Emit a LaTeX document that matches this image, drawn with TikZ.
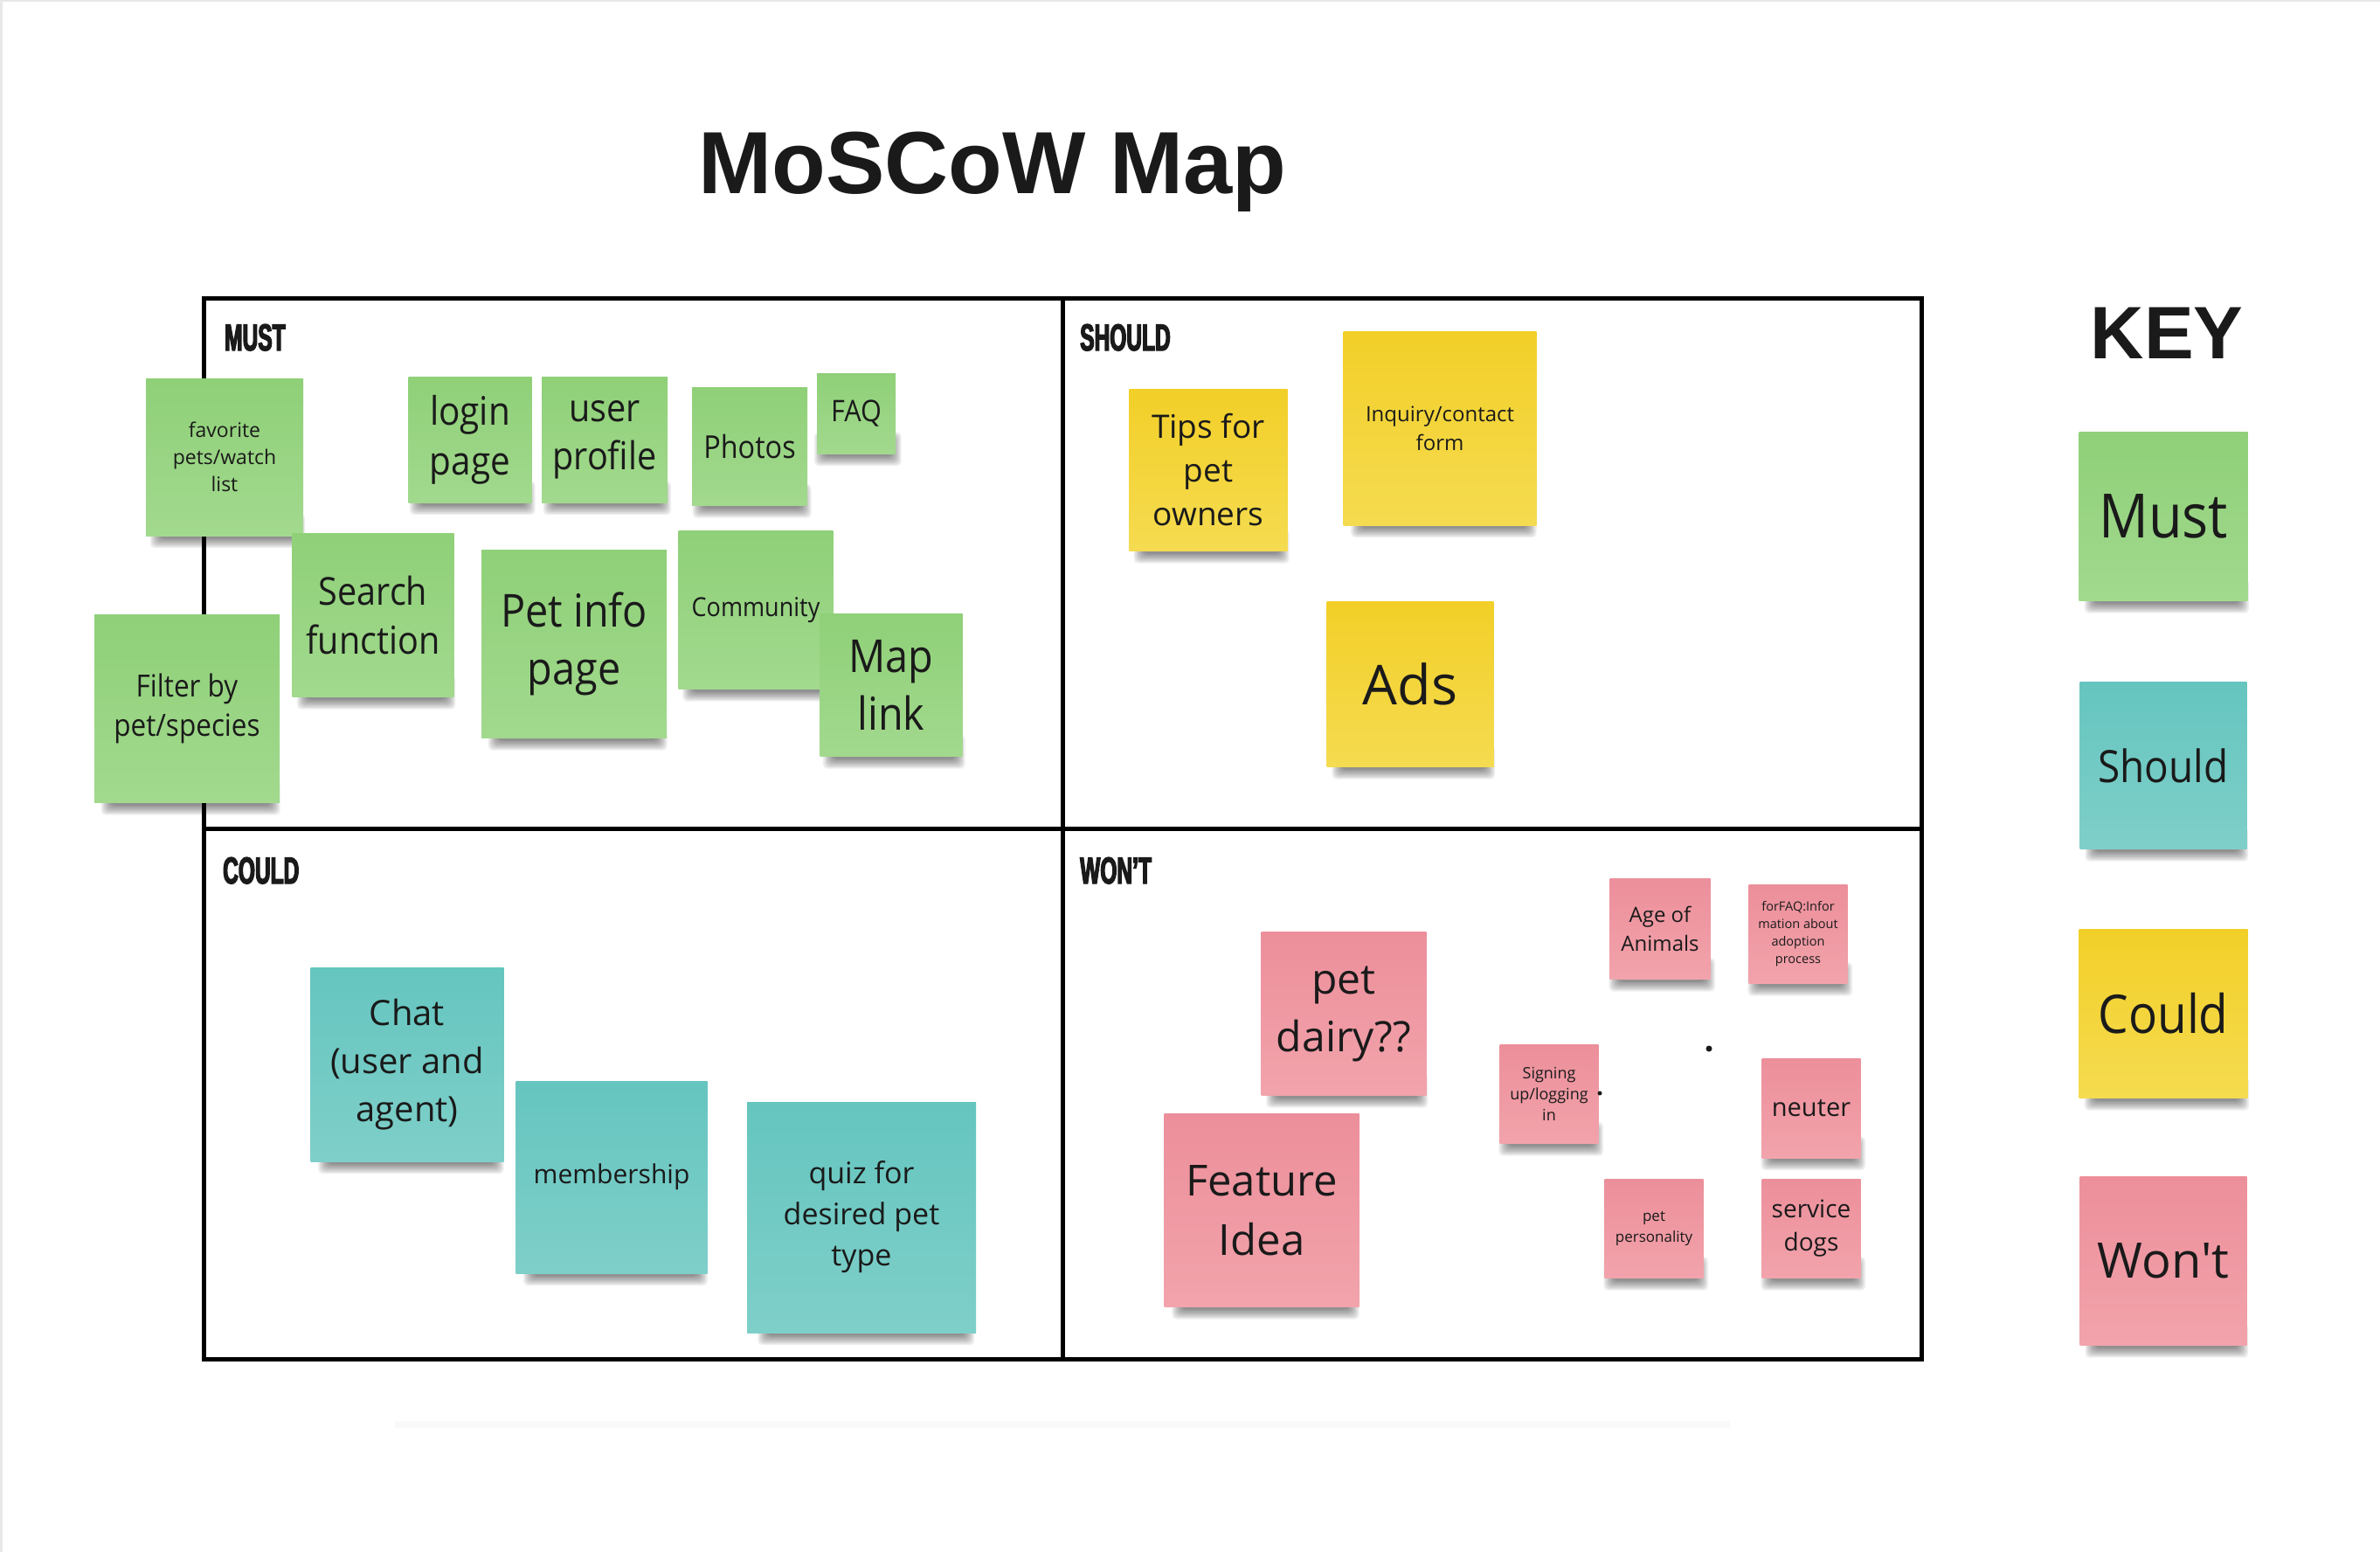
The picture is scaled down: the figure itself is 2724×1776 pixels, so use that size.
\documentclass[tikz,border=0pt]{standalone}
\usepackage{fontspec}
\setmainfont{Open Sans}
\newfontfamily\osc{Open Sans}[FakeStretch=0.9]
\newfontfamily\osplain{Open Sans}
\newfontfamily\headfont{Liberation Sans}
\newfontfamily\bebas{Liberation Sans Bold}[FakeStretch=0.57, FakeBold=3]
\newcommand\fs[2]{\fontsize{#1}{#2}\selectfont}
\definecolor{ink}{RGB}{26,26,26}
\definecolor{gTop}{RGB}{143,208,120}
\definecolor{gBot}{RGB}{162,217,142}
\definecolor{tTop}{RGB}{101,197,191}
\definecolor{tBot}{RGB}{127,207,201}
\definecolor{yTop}{RGB}{242,207,40}
\definecolor{yBot}{RGB}{245,219,80}
\definecolor{pTop}{RGB}{236,143,155}
\definecolor{pBot}{RGB}{242,163,171}
\tikzset{
  sticky/.style={inner sep=0pt, align=center, text=ink},
  sz/.style 2 args={minimum width=#1, minimum height=#2},
  gnote/.style={sticky, top color=gTop, bottom color=gBot},
  tnote/.style={sticky, top color=tTop, bottom color=tBot},
  ynote/.style={sticky, top color=yTop, bottom color=yBot},
  pnote/.style={sticky, top color=pTop, bottom color=pBot},
  softshadow/.style={fill=black, opacity=0.065, rounded corners=5pt},
  qlabel/.style={anchor=base west, inner sep=0pt, text=ink, font=\bebas\fs{43}{43}},
  frame/.style={line width=5pt, draw=black}
}
% shadow under a note: centre x, centre y, width, height
\newcommand\noteshadow[4]{%
  \foreach \k in {0,...,7}{%
    \fill[softshadow] ({#1-0.41*#3-\k*1.6},{#2+#4/2-16-\k*1.2}) rectangle ({#1+0.45*#3+\k*1.6},{#2+#4/2+3+\k*1.6});
  }}
% style, name, x, y, w, h, font, text
\newcommand\sticknote[8]{%
  \noteshadow{#3}{#4}{#5}{#6}%
  \node[#1, sz={#5}{#6}, font={#7}] (#2) at (#3,#4) {#8};}
\begin{document}
\begin{tikzpicture}[x=1pt, y=-1pt]
\useasboundingbox (0,0) rectangle (2724,1776);
\fill[white] (0,0) rectangle (2724,1776);
\draw[gray!18, line width=5pt] (0,1776) -- (0,0) -- (2724,0);
\draw[gray!5, line width=8pt] (452,1630) -- (1980,1630);

% title
\node[anchor=base, inner sep=0pt, text=ink, font=\headfont\bfseries\fs{101}{101}] (title) at (1136,222) {MoSCoW Map};
\node[anchor=base, inner sep=0pt, text=ink, font=\headfont\bfseries\fs{85}{85}] (key) at (2480,410) {KEY};

% frame
\coordinate (tl) at (233,342);
\coordinate (br) at (2199,1555);
\coordinate (tm) at (1216,342);
\coordinate (bm) at (1216,1555);
\coordinate (ml) at (233,948);
\coordinate (mr) at (2199,948);
\draw[frame] (tl) rectangle (br);
\draw[frame] (tm) -- (bm);
\draw[frame] (ml) -- (mr);

\node[qlabel] (lmust) at (257,401) {MUST};
\node[qlabel] (lshould) at (1236,401) {SHOULD};
\node[qlabel] (lcould) at (255,1011) {COULD};
\node[qlabel] (lwont) at (1236,1011) {WON’T};

% MUST
\sticknote{gnote}{fav}{257}{523}{180}{180}{\fs{23}{31}}{favorite\\pets/watch\\list}
\sticknote{gnote}{filter}{214}{811}{212}{215}{\osc\fs{35}{45}}{Filter by\\pet/species}
\sticknote{gnote}{login}{538}{503}{141}{144}{\osc\fs{45}{57}}{login\\page}
\sticknote{gnote}{profile}{692}{503}{144}{144}{\osc\fs{44}{55}}{user\\profile}
\sticknote{gnote}{photos}{858}{511}{132}{135}{\osc\fs{36}{46}}{Photos}
\sticknote{gnote}{faq}{980}{473}{90}{92}{\osc\fs{34}{40}}{FAQ}
\sticknote{gnote}{search}{427}{704}{185}{187}{\osc\fs{44}{56}}{Search\\function}
\sticknote{gnote}{petinfo}{657}{737}{212}{215}{\osc\fs{52}{66}}{Pet info\\page}
\sticknote{gnote}{community}{865}{698}{177}{181}{\osc\fs{30}{36}}{Community}
\sticknote{gnote}{maplink}{1020}{784}{163}{163}{\osc\fs{52}{66}}{Map\\link}

% SHOULD
\sticknote{ynote}{tips}{1383}{538}{181}{185}{\fs{37}{50}}{Tips for\\pet\\owners}
\sticknote{ynote}{inquiry}{1648}{490}{221}{222}{\fs{24}{33}}{Inquiry/contact\\form}
\sticknote{ynote}{ads}{1614}{783}{191}{189}{\fs{63}{80}}{Ads}

% COULD
\sticknote{tnote}{chat}{466}{1218}{221}{222}{\fs{40}{55}}{Chat\\(user and\\agent)}
\sticknote{tnote}{membership}{700}{1347}{219}{220}{\fs{30}{40}}{membership}
\sticknote{tnote}{quiz}{986}{1393}{262}{264}{\fs{34}{47}}{quiz for\\desired pet\\type}

% WON'T
\sticknote{pnote}{dairy}{1538}{1160}{189}{187}{\fs{48}{66}}{pet\\dairy??}
\sticknote{pnote}{feature}{1444}{1385}{223}{221}{\fs{49}{68}}{Feature\\Idea}
\sticknote{pnote}{age}{1900}{1063}{115}{115}{\fs{24}{33}}{Age of\\Animals}
\sticknote{pnote}{forfaq}{2058}{1069}{113}{113}{\fs{14.5}{20}}{forFAQ:Infor\\mation about\\adoption\\process}
\sticknote{pnote}{signing}{1773}{1252}{113}{113}{\fs{18}{24}}{Signing\\up/logging\\in}
\sticknote{pnote}{neuter}{2073}{1268}{113}{114}{\fs{29}{38}}{neuter}
\sticknote{pnote}{personality}{1893}{1406}{113}{113}{\fs{17}{24}}{pet\\personality}
\sticknote{pnote}{service}{2073}{1406}{113}{113}{\fs{28}{38}}{service\\dogs}
\fill[ink] (1956,1200) circle (3.5);
\fill[ink] (1831,1251) circle (2.5);

% KEY
\sticknote{gnote}{kmust}{2476}{591}{193}{193}{\osc\fs{70}{80}}{Must}
\sticknote{tnote}{kshould}{2476}{876}{191}{191}{\osc\fs{51}{60}}{Should}
\sticknote{ynote}{kcould}{2476}{1160}{193}{193}{\osc\fs{61}{70}}{Could}
\sticknote{pnote}{kwont}{2476}{1443}{191}{193}{\osplain\fs{56}{66}}{Won't}
\end{tikzpicture}
\end{document}
